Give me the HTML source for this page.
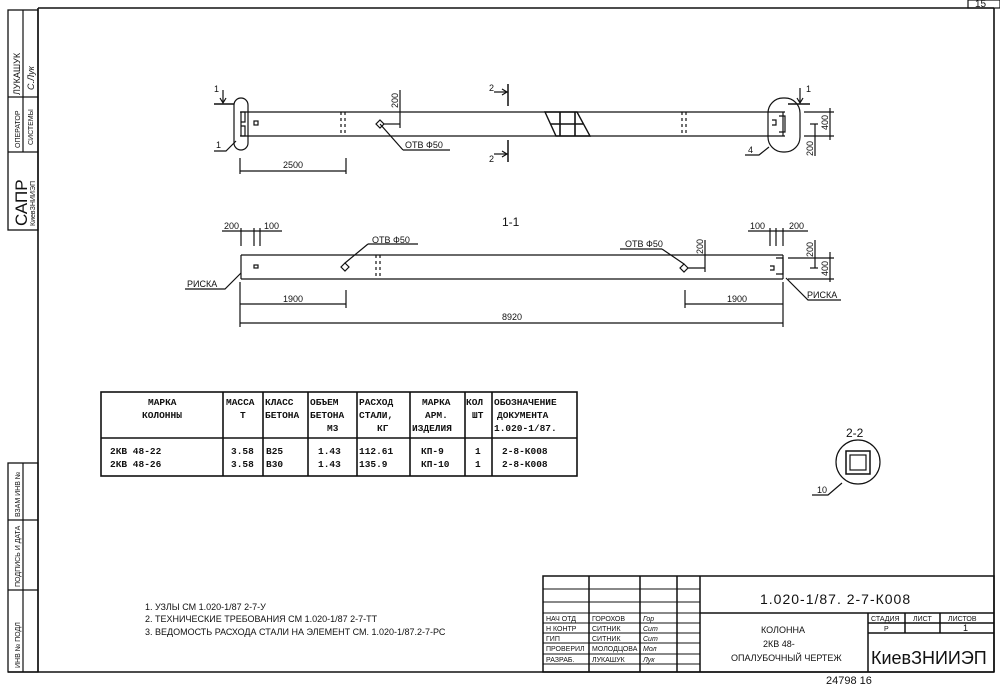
<!DOCTYPE html>
<html><head><meta charset="utf-8"><style>
html,body{margin:0;padding:0;background:#fff}
svg{display:block}
text{font-family:"Liberation Sans",sans-serif;fill:#111}
.s{font-size:9px}
.m{font-size:10px}
.t text{font-family:"Liberation Mono",monospace;font-size:9.5px;font-weight:bold}
</style></head><body>
<svg width="1000" height="684" viewBox="0 0 1000 684" xmlns="http://www.w3.org/2000/svg" stroke="#111" fill="none" stroke-width="1.2">
<line x1="38" y1="8" x2="994" y2="8" stroke-width="1.6"/>
<line x1="38" y1="8" x2="38" y2="672" stroke-width="1.6"/>
<line x1="994" y1="8" x2="994" y2="672" stroke-width="1.6"/>
<line x1="8" y1="672" x2="994" y2="672" stroke-width="1.6"/>
<rect x="968" y="0" width="32" height="8"/>
<text x="975" y="7" class="m" stroke="none">15</text>
<rect x="8" y="10" width="30" height="220" stroke-width="1.3"/>
<line x1="8" y1="97" x2="38" y2="97"/><line x1="8" y1="152" x2="38" y2="152"/>
<line x1="23" y1="10" x2="23" y2="152"/>
<g stroke="none">
<text transform="translate(20,95) rotate(-90)" class="s">ЛУКАШУК</text>
<text transform="translate(34,90) rotate(-90)" class="s" font-style="italic">С.Лук</text>
<text transform="translate(20,148) rotate(-90)" font-size="7">ОПЕРАТОР</text>
<text transform="translate(33,145) rotate(-90)" font-size="7">СИСТЕМЫ</text>
<text transform="translate(27,226) rotate(-90)" font-size="17">САПР</text>
<text transform="translate(35,226) rotate(-90)" font-size="7">КиевЗНИИЭП</text>
</g>
<rect x="8" y="463" width="30" height="209" stroke-width="1.3"/>
<line x1="8" y1="520" x2="38" y2="520"/><line x1="8" y1="590" x2="38" y2="590"/>
<line x1="23" y1="463" x2="23" y2="672"/>
<g stroke="none" font-size="7">
<text transform="translate(20,517) rotate(-90)">ВЗАМ ИНВ №</text>
<text transform="translate(20,587) rotate(-90)">ПОДПИСЬ И ДАТА</text>
<text transform="translate(20,668) rotate(-90)">ИНВ № ПОДЛ</text>
</g>

<g>
<line x1="240" y1="112" x2="785" y2="112"/><line x1="240" y1="136" x2="785" y2="136"/>
<rect x="234" y="98" width="14" height="52" rx="7"/>
<rect x="768" y="98" width="32" height="54" rx="15"/>
<line x1="241" y1="112" x2="241" y2="136"/>
<path d="M241 112h4v10h-4M241 126h4v10h-4"/>
<rect x="254" y="121" width="4" height="4"/>
<path d="M783 112v24M779 116h6v16h-6M772 120h4v5h-4"/>
<path d="M341 112v24M345 112v24" stroke-dasharray="3,3"/>
<path d="M682 112v24M686 112v24" stroke-dasharray="3,3"/>
<path d="M545 112h32l13 24h-34z" stroke-width="1.4"/><line x1="560" y1="112" x2="560" y2="136" stroke-width="1.6"/><line x1="575" y1="112" x2="575" y2="136" stroke-width="1.6"/><line x1="551" y1="124" x2="583" y2="124" stroke-width="1.4"/>
<path d="M380 120l4 4-4 4-4-4z"/>
<line x1="384" y1="124" x2="400" y2="124"/><line x1="400" y1="90" x2="400" y2="128"/>
<line x1="380" y1="124" x2="403" y2="150"/><line x1="403" y1="150" x2="450" y2="150"/>
<text x="405" y="148" class="s" stroke="none">ОТВ Ф50</text>
<text transform="translate(398,108) rotate(-90)" class="s" stroke="none">200</text>
<line x1="214" y1="104" x2="234" y2="104" stroke-width="1.5"/><path d="M223 90v12M220 98l3 5 3-5"/>
<text x="214" y="92" class="s" stroke="none">1</text>
<line x1="788" y1="104" x2="810" y2="104" stroke-width="1.5"/><path d="M800 88v14M797 98l3 5 3-5"/>
<text x="806" y="92" class="s" stroke="none">1</text>
<line x1="508" y1="84" x2="508" y2="106" stroke-width="1.5"/><line x1="494" y1="92" x2="508" y2="92"/><path d="M502 89l5 3-5 3"/>
<line x1="508" y1="140" x2="508" y2="162" stroke-width="1.5"/><line x1="494" y1="154" x2="508" y2="154"/><path d="M502 151l5 3-5 3"/>
<text x="489" y="91" class="s" stroke="none">2</text><text x="489" y="162" class="s" stroke="none">2</text>
<path d="M214 151h12l10-10"/><text x="216" y="148" class="s" stroke="none">1</text>
<path d="M745 155h14l10-8"/><text x="748" y="153" class="s" stroke="none">4</text>
<line x1="240" y1="171" x2="346" y2="171"/><line x1="240" y1="158" x2="240" y2="174"/><line x1="346" y1="158" x2="346" y2="174"/>
<text x="283" y="168" class="s" stroke="none">2500</text>
<line x1="804" y1="112" x2="834" y2="112"/><line x1="804" y1="136" x2="834" y2="136"/>
<line x1="830" y1="108" x2="830" y2="140"/>
<text transform="translate(828,130) rotate(-90)" class="s" stroke="none">400</text>
<line x1="815" y1="124" x2="815" y2="156"/><line x1="810" y1="124" x2="818" y2="124"/>
<text transform="translate(813,156) rotate(-90)" class="s" stroke="none">200</text>
</g>

<text x="502" y="226" font-size="12" stroke="none">1-1</text>

<g>
<line x1="241" y1="255" x2="783" y2="255"/><line x1="241" y1="279" x2="783" y2="279"/>
<line x1="241" y1="255" x2="241" y2="279"/><line x1="783" y1="255" x2="783" y2="279"/>
<rect x="254" y="265" width="4" height="3"/>
<path d="M376 255v24M380 255v24" stroke-dasharray="3,3"/>
<path d="M345 263l4 4-4 4-4-4z"/>
<path d="M684 264l4 4-4 4-4-4z"/><line x1="688" y1="268" x2="705" y2="268"/><line x1="705" y1="240" x2="705" y2="272"/>
<path d="M776 258h7v16h-7M770 266h4v4h-4"/>
<line x1="345" y1="263" x2="368" y2="244"/><line x1="368" y1="244" x2="418" y2="244"/>
<text x="372" y="243" class="s" stroke="none">ОТВ Ф50</text>
<line x1="684" y1="264" x2="662" y2="249"/><line x1="620" y1="249" x2="662" y2="249"/>
<text x="625" y="247" class="s" stroke="none">ОТВ Ф50</text>
<text transform="translate(703,254) rotate(-90)" class="s" stroke="none">200</text>
<line x1="222" y1="231" x2="282" y2="231"/>
<line x1="241" y1="228" x2="241" y2="246"/><line x1="254" y1="228" x2="254" y2="246"/><line x1="260" y1="228" x2="260" y2="246"/>
<text x="224" y="229" class="s" stroke="none">200</text><text x="264" y="229" class="s" stroke="none">100</text>
<line x1="748" y1="231" x2="808" y2="231"/>
<line x1="770" y1="228" x2="770" y2="246"/><line x1="776" y1="228" x2="776" y2="246"/><line x1="783" y1="228" x2="783" y2="246"/>
<text x="750" y="229" class="s" stroke="none">100</text><text x="789" y="229" class="s" stroke="none">200</text>
<line x1="788" y1="258" x2="834" y2="258"/><line x1="788" y1="279" x2="834" y2="279"/>
<line x1="830" y1="252" x2="830" y2="282"/>
<text transform="translate(828,276) rotate(-90)" class="s" stroke="none">400</text>
<line x1="815" y1="240" x2="815" y2="268"/><line x1="810" y1="268" x2="818" y2="268"/>
<text transform="translate(813,257) rotate(-90)" class="s" stroke="none">200</text>
<path d="M185 289h40l16-16"/><text x="187" y="287" class="s" stroke="none">РИСКА</text>
<path d="M841 300h-33l-22-22"/><text x="807" y="298" class="s" stroke="none">РИСКА</text>
<line x1="240" y1="304" x2="346" y2="304"/><line x1="346" y1="290" x2="346" y2="308"/>
<text x="283" y="302" class="s" stroke="none">1900</text>
<line x1="685" y1="304" x2="783" y2="304"/><line x1="685" y1="290" x2="685" y2="308"/>
<text x="727" y="302" class="s" stroke="none">1900</text>
<line x1="240" y1="323" x2="783" y2="323"/><line x1="240" y1="282" x2="240" y2="327"/><line x1="783" y1="282" x2="783" y2="327"/>
<text x="502" y="320" class="s" stroke="none">8920</text>
</g>

<g stroke-width="1.6">
<rect x="101" y="392" width="476" height="84"/>
<line x1="101" y1="438" x2="577" y2="438"/>
<line x1="223" y1="392" x2="223" y2="476"/><line x1="263" y1="392" x2="263" y2="476"/>
<line x1="308" y1="392" x2="308" y2="476"/><line x1="357" y1="392" x2="357" y2="476"/>
<line x1="410" y1="392" x2="410" y2="476"/><line x1="465" y1="392" x2="465" y2="476"/>
<line x1="492" y1="392" x2="492" y2="476"/>
</g>
<g stroke="none" class="t">
<text x="148" y="405">МАРКА</text><text x="142" y="418">КОЛОННЫ</text>
<text x="226" y="405">МАССА</text><text x="240" y="418">Т</text>
<text x="265" y="405">КЛАСС</text><text x="265" y="418">БЕТОНА</text>
<text x="310" y="405">ОБЪЕМ</text><text x="310" y="418">БЕТОНА</text><text x="327" y="431">М3</text>
<text x="359" y="405">РАСХОД</text><text x="359" y="418">СТАЛИ,</text><text x="377" y="431">КГ</text>
<text x="422" y="405">МАРКА</text><text x="425" y="418">АРМ.</text><text x="412" y="431">ИЗДЕЛИЯ</text>
<text x="466" y="405">КОЛ</text><text x="472" y="418">ШТ</text>
<text x="494" y="405">ОБОЗНАЧЕНИЕ</text><text x="497" y="418">ДОКУМЕНТА</text><text x="494" y="431">1.020-1/87.</text>
<text x="110" y="454">2КВ  48-22</text><text x="110" y="467">2КВ  48-26</text>
<text x="231" y="454">3.58</text><text x="231" y="467">3.58</text>
<text x="266" y="454">В25</text><text x="266" y="467">В30</text>
<text x="318" y="454">1.43</text><text x="318" y="467">1.43</text>
<text x="359" y="454">112.61</text><text x="359" y="467">135.9</text>
<text x="421" y="454">КП-9</text><text x="421" y="467">КП-10</text>
<text x="475" y="454">1</text><text x="475" y="467">1</text>
<text x="502" y="454">2-8-К008</text><text x="502" y="467">2-8-К008</text>
</g>

<text x="846" y="437" font-size="12" stroke="none">2-2</text>
<circle cx="858" cy="462" r="22"/>
<rect x="846" y="451" width="24" height="23" stroke-width="1.5"/>
<rect x="850" y="455" width="16" height="15"/>
<path d="M812 495h16l14-12"/><text x="817" y="493" class="s" stroke="none">10</text>

<g stroke="none" class="s">
<text x="145" y="610">1. УЗЛЫ СМ  1.020-1/87 2-7-У</text>
<text x="145" y="622">2. ТЕХНИЧЕСКИЕ ТРЕБОВАНИЯ СМ  1.020-1/87 2-7-ТТ</text>
<text x="145" y="635">3. ВЕДОМОСТЬ РАСХОДА СТАЛИ НА ЭЛЕМЕНТ СМ. 1.020-1/87.2-7-РС</text>
</g>

<g stroke-width="1.5">
<rect x="543" y="576" width="451" height="96"/>
<line x1="589" y1="576" x2="589" y2="672"/><line x1="640" y1="576" x2="640" y2="672"/>
<line x1="677" y1="576" x2="677" y2="672"/><line x1="700" y1="576" x2="700" y2="672"/>
<line x1="700" y1="613" x2="994" y2="613"/>
<line x1="868" y1="613" x2="868" y2="672"/>
<line x1="868" y1="623" x2="994" y2="623"/><line x1="868" y1="633" x2="994" y2="633"/>
<line x1="905" y1="613" x2="905" y2="633"/><line x1="940" y1="613" x2="940" y2="633"/>
</g>
<g stroke-width="0.9">
<line x1="543" y1="589" x2="700" y2="589"/><line x1="543" y1="602" x2="700" y2="602"/>
<line x1="543" y1="613" x2="700" y2="613"/><line x1="543" y1="623" x2="700" y2="623"/>
<line x1="543" y1="633" x2="700" y2="633"/><line x1="543" y1="643" x2="700" y2="643"/>
<line x1="543" y1="654" x2="700" y2="654"/><line x1="543" y1="664" x2="700" y2="664"/>
</g>
<g stroke="none" font-size="7">
<text x="546" y="621">НАЧ ОТД</text><text x="546" y="631">Н КОНТР</text><text x="546" y="641">ГИП</text>
<text x="546" y="651">ПРОВЕРИЛ</text><text x="546" y="662">РАЗРАБ.</text>
<text x="592" y="621">ГОРОХОВ</text><text x="592" y="631">СИТНИК</text><text x="592" y="641">СИТНИК</text>
<text x="592" y="651">МОЛОДЦОВА</text><text x="592" y="662">ЛУКАШУК</text>
<text x="643" y="621" font-style="italic">Гор</text><text x="643" y="631" font-style="italic">Сит</text><text x="643" y="641" font-style="italic">Сит</text>
<text x="643" y="651" font-style="italic">Мол</text><text x="643" y="662" font-style="italic">Лук</text>
<text x="871" y="621">СТАДИЯ</text><text x="913" y="621">ЛИСТ</text><text x="948" y="621">ЛИСТОВ</text>
<text x="884" y="631">Р</text><text x="963" y="631" font-size="9">1</text>
</g>
<text x="760" y="604" font-size="14" font-family="Liberation Mono" stroke="none" letter-spacing="1">1.020-1/87. 2-7-К008</text>
<g stroke="none" class="s">
<text x="761" y="633">КОЛОННА</text>
<text x="763" y="647">2КВ 48-</text>
<text x="731" y="661">ОПАЛУБОЧНЫЙ ЧЕРТЕЖ</text>
</g>
<text x="871" y="664" font-size="18" stroke="none">КиевЗНИИЭП</text>
<text x="826" y="684" font-size="11" stroke="none">24798 16</text>
</svg>
</body></html>
